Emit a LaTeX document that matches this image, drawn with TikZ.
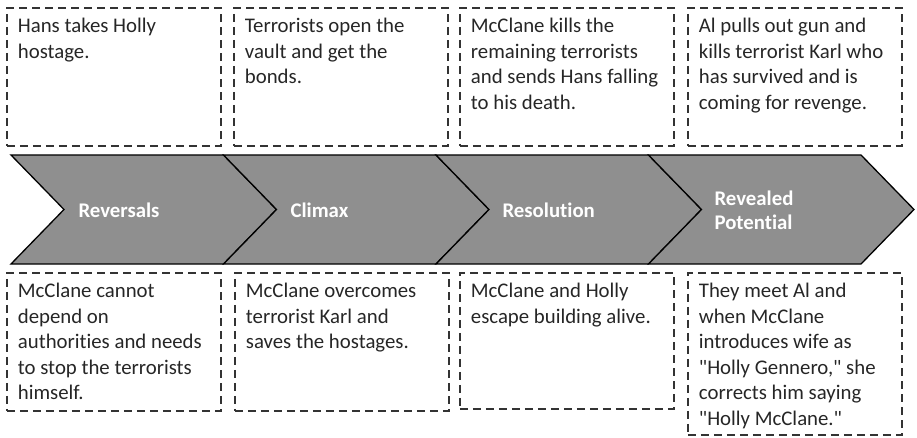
\documentclass[tikz,border=0pt]{standalone}
\usepackage{fontspec}
\setmainfont{Carlito}[Ligatures={TeXOff,NoCommon}]
\usetikzlibrary{positioning}

% top-aligned text block for the dashed note boxes
\newcommand{\notetext}[2]{\parbox[t][#1][t]{192pt}{\raggedright\strut #2}}

\begin{document}
\begin{tikzpicture}[
  x=1pt, y=-1pt,
  font=\fontsize{20.8}{25.5}\selectfont,
  note/.style={
    draw=black!80,
    dash pattern=on 8pt off 5pt,
    line width=1.8pt,
    anchor=north west,
    inner xsep=11pt,
    inner ysep=7pt,
    minimum width=214pt,
    text=black!85
  },
  stage/.style={
    fill=black!44,
    draw=black,
    line width=1.3pt,
    line join=miter
  },
  tag/.style={
    anchor=west,
    align=left,
    text=white,
    font=\fontsize{20.8}{24}\selectfont\bfseries
  }
]
\useasboundingbox (0,0) rectangle (917,438);

% Chevron band
\draw[stage] (11,155) -- (223.5,155) -- (276.5,209.5) -- (223.5,264) -- (11,264) -- (64,209.5) -- cycle;
\draw[stage] (223.5,155) -- (436,155) -- (489,209.5) -- (436,264) -- (223.5,264) -- (276.5,209.5) -- cycle;
\draw[stage] (436,155) -- (648.5,155) -- (701.5,209.5) -- (648.5,264) -- (436,264) -- (489,209.5) -- cycle;
\draw[stage] (648.5,155) -- (861,155) -- (914,209.5) -- (861,264) -- (648.5,264) -- (701.5,209.5) -- cycle;

\node[tag] (reversals) at (75,210) {Reversals};
\node[tag] (climax) at (287,210) {Climax};
\node[tag] (resolution) at (499,210) {Resolution};
\node[tag] (revealed) at (711,210) {Revealed\\Potential};

% Events above the band
\node[note] (hostage) at (6,7) {\notetext{124pt}{%
  Hans takes Holly\\
  hostage.}};
\node[note] (vault) at (233,7) {\notetext{124pt}{%
  Terrorists open the\\
  vault and get the\\
  bonds.}};
\node[note] (falling) at (459,7) {\notetext{124pt}{%
  McClane kills the\\
  remaining terrorists\\
  and sends Hans falling\\
  to his death.}};
\node[note] (revenge) at (687,7) {\notetext{124pt}{%
  Al pulls out gun and\\
  kills terrorist Karl who\\
  has survived and is\\
  coming for revenge.}};

% Events below the band
\node[note] (alone) at (6,272) {\notetext{124pt}{%
  McClane cannot\\
  depend on\\
  authorities and needs\\
  to stop the terrorists\\
  himself.}};
\node[note] (karl) at (234,272) {\notetext{124pt}{%
  McClane overcomes\\
  terrorist Karl and\\
  saves the hostages.}};
\node[note] (escape) at (459,272) {\notetext{122pt}{%
  McClane and Holly\\
  escape building alive.}};
\node[note] (wife) at (687,272) {\notetext{148pt}{%
  They meet Al and\\
  when McClane\\
  introduces wife as\\
  "Holly Gennero," she\\
  corrects him saying\\
  "Holly McClane."}};

\end{tikzpicture}
\end{document}
